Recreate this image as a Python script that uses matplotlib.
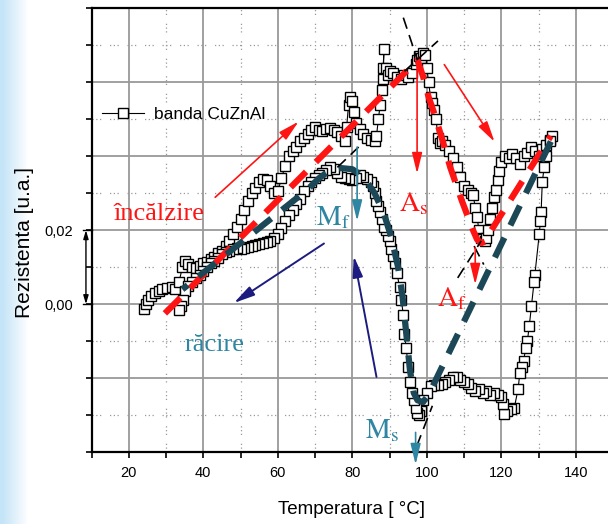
import numpy as np
import matplotlib
matplotlib.use('Agg')
import matplotlib.pyplot as plt
import matplotlib.transforms as mtransforms

# Heating branch (temperature, resistance)
heat_t = [24.0, 24.5, 25.2, 26.0, 27.0, 28.0, 29.0, 30.2, 31.5, 32.5, 33.5, 34.4, 35.0, 36.0,
          37.0, 38.0, 39.0, 40.0, 41.0, 42.0, 43.0, 44.0, 45.0, 46.0, 47.0, 48.0, 49.0, 50.0,
          51.0, 52.0, 53.0, 54.0, 55.0, 56.0, 57.0, 58.0, 59.0, 60.0, 61.0, 62.0, 63.0, 64.0,
          65.0, 66.0, 67.0, 68.0, 69.0, 70.0, 71.0, 72.0, 73.0, 74.0, 75.0, 76.0, 77.0, 78.0,
          78.5, 79.0, 79.5, 80.0, 80.5, 81.0, 82.0, 83.0, 84.0, 85.0, 86.0, 86.5, 87.0, 87.5,
          88.0, 88.3, 88.5, 88.3, 89.0, 89.5, 90.0, 91.0, 92.0, 93.0, 94.0, 95.0, 96.0, 97.0,
          97.5, 98.0, 98.5, 99.0, 99.5, 100.0, 100.5, 101.0, 101.5, 102.0, 102.5, 103.0, 103.5,
          104.0, 105.0, 106.0, 107.0, 108.0, 109.0, 110.0, 111.0, 112.0, 112.5, 113.0, 113.5,
          114.0, 114.5, 115.0, 115.5, 116.0, 116.5, 117.0, 117.5, 118.0, 118.5, 119.0, 119.5,
          120.0, 121.0, 122.0, 123.0, 124.0, 125.0, 126.0, 127.0, 128.0, 129.0, 130.0, 131.0,
          132.0, 133.0, 133.5]
heat_r = [-0.0012, 0.0000, 0.0012, 0.0022, 0.0030, 0.0036, 0.0040, 0.0044, 0.0046, 0.0040,
          0.0060, 0.0100, 0.0116, 0.0108, 0.0100, 0.0098, 0.0104, 0.0110, 0.0115, 0.0122,
          0.0128, 0.0138, 0.0145, 0.0158, 0.0170, 0.0190, 0.0210, 0.0230, 0.0255, 0.0280,
          0.0300, 0.0315, 0.0330, 0.0338, 0.0335, 0.0320, 0.0300, 0.0305, 0.0340, 0.0375,
          0.0400, 0.0415, 0.0425, 0.0440, 0.0450, 0.0460, 0.0470, 0.0478, 0.0472, 0.0468,
          0.0474, 0.0476, 0.0470, 0.0465, 0.0455, 0.0440, 0.0480, 0.0540, 0.0560, 0.0550,
          0.0520, 0.0490, 0.0475, 0.0460, 0.0450, 0.0445, 0.0440, 0.0455, 0.0500, 0.0540,
          0.0580, 0.0610, 0.0690, 0.0640, 0.0640, 0.0620, 0.0630, 0.0625, 0.0615, 0.0610,
          0.0620, 0.0615, 0.0625, 0.0650, 0.0660, 0.0670, 0.0665, 0.0680, 0.0675, 0.0640,
          0.0600, 0.0560, 0.0545, 0.0525, 0.0500, 0.0450, 0.0435, 0.0440, 0.0430, 0.0415,
          0.0395, 0.0370, 0.0345, 0.0320, 0.0310, 0.0300, 0.0295, 0.0260, 0.0235, 0.0200,
          0.0180, 0.0175, 0.0170, 0.0180, 0.0200, 0.0230, 0.0260, 0.0290, 0.0310, 0.0335,
          0.0360, 0.0385, 0.0400, 0.0395, 0.0405, 0.0395, 0.0380, 0.0400, 0.0410, 0.0425,
          0.0415, 0.0400, 0.0420, 0.0430, 0.0445, 0.0455]

# Cooling branch
cool_t = [133.0, 132.0, 131.5, 131.0, 130.7, 130.5, 130.2, 129.0, 128.8, 128.1, 127.5, 127.0,
          126.5, 126.0, 125.5, 125.0, 124.5, 123.5, 122.5, 121.5, 120.8, 120.5, 120.0, 119.0,
          118.0, 117.0, 116.0, 115.0, 114.0, 113.0, 112.0, 111.0, 110.0, 109.0, 108.0, 107.0,
          106.0, 105.0, 104.0, 103.0, 102.0, 101.0, 100.0, 99.0, 98.5, 98.0, 97.5, 97.0, 96.5,
          96.0, 95.5, 95.0, 94.5, 94.0, 93.7, 93.2, 92.7, 92.0, 91.5, 91.0, 90.5, 90.0, 89.5,
          89.0, 88.5, 88.0, 87.5, 87.0, 86.5, 86.0, 85.5, 85.0, 84.0, 83.0, 82.0, 81.0, 80.0,
          79.0, 78.0, 77.0, 76.0, 75.0, 74.0, 73.0, 72.0, 71.0, 70.0, 69.0, 68.0, 67.0, 66.0,
          65.0, 64.0, 63.0, 62.0, 61.0, 60.0, 59.0, 58.0, 57.0, 56.0, 55.0, 54.0, 53.0, 52.0,
          51.0, 50.0, 49.0, 48.0, 47.0, 46.0, 45.0, 44.0, 43.0, 42.0, 41.0, 40.0, 39.0, 38.0,
          37.0, 36.0, 35.0, 34.5, 34.0, 33.5]
cool_r = [0.0440, 0.0400, 0.0370, 0.0330, 0.0250, 0.0225, 0.0190, 0.0080, 0.0060, -0.0006,
          -0.0060, -0.0100, -0.0120, -0.0155, -0.0170, -0.0185, -0.0230, -0.0280, -0.0285,
          -0.0290, -0.0296, -0.0270, -0.0250, -0.0245, -0.0240, -0.0245, -0.0235, -0.0240,
          -0.0230, -0.0235, -0.0228, -0.0215, -0.0210, -0.0205, -0.0198, -0.0198, -0.0205,
          -0.0210, -0.0215, -0.0218, -0.0220, -0.0222, -0.0240, -0.0260, -0.0290, -0.0300,
          -0.0295, -0.0280, -0.0260, -0.0240, -0.0210, -0.0170, -0.0120, -0.0080, -0.0030,
          0.0010, 0.0045, 0.0085, 0.0110, 0.0130, 0.0150, 0.0170, 0.0185, 0.0200, 0.0210,
          0.0230, 0.0250, 0.0265, 0.0280, 0.0300, 0.0320, 0.0330, 0.0338, 0.0345, 0.0350,
          0.0340, 0.0335, 0.0338, 0.0340, 0.0345, 0.0355, 0.0365, 0.0370, 0.0362, 0.0355,
          0.0350, 0.0340, 0.0330, 0.0320, 0.0305, 0.0285, 0.0270, 0.0255, 0.0240, 0.0225,
          0.0205, 0.0190, 0.0180, 0.0172, 0.0168, 0.0165, 0.0162, 0.0160, 0.0157, 0.0155,
          0.0152, 0.0150, 0.0152, 0.0150, 0.0145, 0.0140, 0.0135, 0.0125, 0.0118, 0.0110,
          0.0100, 0.0090, 0.0080, 0.0070, 0.0060, 0.0050, 0.0035, 0.0010, -0.0005, -0.0015]

# Hand-drawn fits (red = heating, teal = cooling)
fit_heat_t = [29.7, 97.5, 99.0, 100.5, 102.0, 104.2, 106.3, 109.4, 112.5, 113.5, 114.6, 115.8, 116.7, 133.3]
fit_heat_r = [-0.0025, 0.066, 0.0616, 0.056, 0.0516, 0.0444, 0.037, 0.028, 0.0198, 0.0175, 0.0165, 0.017, 0.019, 0.0455]
fit_cool_t = [133.3, 100.5, 99.0, 97.5, 96.5, 95.5, 94.5, 93.5, 92.3, 90.5, 88.5, 86.0, 83.0, 80.0, 77.0, 74.0, 71.0, 68.0, 34.4]
fit_cool_r = [0.044, -0.0245, -0.0265, -0.026, -0.024, -0.018, -0.008, 0.002, 0.010, 0.018, 0.0245, 0.030, 0.0345, 0.0365, 0.0368, 0.0362, 0.034, 0.031, 0.004]

# tangent construction lines ([x0, x1], [y0, y1])
tangents = [([93.7, 97.5], [0.0775, 0.066]),
            ([94.0, 103.0], [0.063, 0.0712]),
            ([108.3, 114.6], [0.0071, 0.0171]),
            ([112.7, 115.3], [0.0157, 0.0107]),
            ([76.0, 81.7], [0.037, 0.0425]),
            ([97.3, 101.5], [-0.0384, -0.0275])]

RED = '#ff1414'
TEAL_TXT = '#2f86a2'
TEAL_FIT = '#1b4757'
NAVY = '#1c1c80'
GRID = '#999999'

plt.rcParams['font.family'] = ['Liberation Sans', 'DejaVu Sans']
plt.rcParams['mathtext.fontset'] = 'stix'

fig = plt.figure(figsize=(6.08, 5.24), dpi=100)

# light blue strip on the left edge
bg = fig.add_axes([0, 0, 0.05, 1])
grad = np.linspace(0, 1, 6)[None, :]
bg.imshow(grad, aspect='auto', interpolation='bilinear',
          cmap=matplotlib.colors.LinearSegmentedColormap.from_list('bl', ['#c4e4f7', '#ffffff']),
          extent=[0, 1, 0, 1])
bg.axis('off')

ax = fig.add_axes([91.5 / 608, 72 / 524, 529 / 608, 443.6 / 524])
XLIM = (10, 152)
YLIM = (-0.04, 0.08)
ax.set_xlim(*XLIM)
ax.set_ylim(*YLIM)

xmaj = np.arange(20, 141, 20)
xmin = np.arange(30, 151, 20)
ymaj = np.arange(-0.02, 0.061, 0.02)
ymin = np.arange(-0.03, 0.08, 0.02)

# grid as line collections: solid major, dotted minor
dots = (0, (1, 2, 1, 2, 1, 7))
ax.vlines(xmaj, YLIM[0], YLIM[1], colors=GRID, linewidths=1.3, zorder=1.5)
ax.hlines(ymaj, XLIM[0], XLIM[1], colors=GRID, linewidths=1.3, zorder=1.5)
ax.vlines(xmin, YLIM[0], YLIM[1], colors=GRID, linewidths=0.9, linestyles=[dots], zorder=1.5)
ax.hlines(ymin, XLIM[0], XLIM[1], colors=GRID, linewidths=0.9, linestyles=[dots], zorder=1.5)

ytick_vals = np.arange(-0.04, 0.081, 0.02)
ax.set_xticks(xmaj)
ax.set_xticks(np.arange(10, 151, 20), minor=True)
ax.set_yticks(ytick_vals)
ax.set_yticklabels(['0,00' if abs(v) < 1e-9 else ('0,02' if abs(v - 0.02) < 1e-9 else '')
                    for v in ytick_vals])
ax.set_yticks(ymin, minor=True)
ax.tick_params(which='both', direction='out', length=4, width=1.2, labelsize=10.5)
ax.tick_params(axis='x', pad=6)
ax.tick_params(axis='y', pad=9)

for s in ax.spines.values():
    s.set_linewidth(1.6)

temp = heat_t + cool_t
res = heat_r + cool_r
ax.plot(temp, res, color='black', lw=0.8, marker='s', ms=7.5, mfc='white', mec='black',
        mew=1.0, label='banda CuZnAl', zorder=3)

ax.plot(fit_heat_t, fit_heat_r, color=RED, lw=4.5, ls=(0, (3.5, 2.2)), zorder=4)
ax.plot(fit_cool_t, fit_cool_r, color=TEAL_FIT, lw=4.5, ls=(0, (3.5, 2.2)), zorder=4)
for tx, ty in tangents:
    ax.plot(tx, ty, color='black', lw=1.2, ls=(0, (7, 4)), zorder=5)

def arrow(x0, y0, x1, y1, color, lw=1.2):
    ax.annotate('', xy=(x1, y1), xytext=(x0, y0), annotation_clip=False,
                arrowprops=dict(arrowstyle='-|>,head_width=0.22,head_length=0.9',
                                color=color, lw=lw, mutation_scale=14, shrinkA=0, shrinkB=0),
                zorder=6)

arrow(43.2, 0.0289, 65.6, 0.0494, RED)
arrow(104.7, 0.0648, 118.2, 0.0439, RED)
arrow(97.4, 0.0657, 97.4, 0.0353, RED)
arrow(113.0, 0.0153, 113.0, 0.0053, RED)
arrow(81.3, 0.0425, 81.3, 0.0225, TEAL_TXT)
arrow(97.0, -0.0347, 97.0, -0.0434, TEAL_TXT)
arrow(72.4, 0.0164, 48.2, 0.0003, NAVY, lw=1.4)
arrow(86.5, -0.0197, 80.4, 0.0130, NAVY, lw=1.4)

serif = ['Liberation Serif', 'DejaVu Serif']
ax.text(28.1, 0.0244, 'încălzire', color=RED, fontsize=19, family=serif, ha='center', va='center')
ax.text(43.0, -0.0111, 'răcire', color=TEAL_TXT, fontsize=19, family=serif, ha='center', va='center')
ax.text(96.6, 0.0271, r'$\mathrm{A_s}$', color=RED, fontsize=20, ha='center', va='center')
ax.text(74.8, 0.0235, r'$\mathrm{M_f}$', color=TEAL_TXT, fontsize=20, ha='center', va='center')
ax.text(106.8, 0.0016, r'$\mathrm{A_f}$', color=RED, fontsize=20, ha='center', va='center')
ax.text(88.0, -0.0343, r'$\mathrm{M_s}$', color=TEAL_TXT, fontsize=20, ha='center', va='center')

# double arrow marking the 0,02 span on the left axis
trans = mtransforms.blended_transform_factory(ax.transAxes, ax.transData)
ax.annotate('', xy=(-0.0105, 0.02), xytext=(-0.0105, 0.0), xycoords=trans, textcoords=trans,
            annotation_clip=False,
            arrowprops=dict(arrowstyle='<|-|>,head_width=0.15,head_length=0.5', color='black',
                            lw=1.0, mutation_scale=10, shrinkA=0, shrinkB=0))
for yv in (0.0, 0.02):
    ax.plot([-0.016, 0.0], [yv, yv], color='black', lw=1.0, transform=trans, clip_on=False)

ax.set_xlim(*XLIM)
ax.set_ylim(*YLIM)

ax.legend(loc='center left', bbox_to_anchor=(0.0, 0.76), frameon=False, fontsize=12.5,
          handlelength=2.4, borderaxespad=0.2, handletextpad=0.6)

fig.text(352 / 608, 1 - 510 / 524, 'Temperatura [ °C]', fontsize=13.5,
         ha='center', va='center')
fig.text(25 / 608, 1 - 243 / 524, 'Rezistenta [u.a.]', fontsize=15, rotation=90,
         ha='center', va='center')

fig.savefig('out.png', dpi=100)
